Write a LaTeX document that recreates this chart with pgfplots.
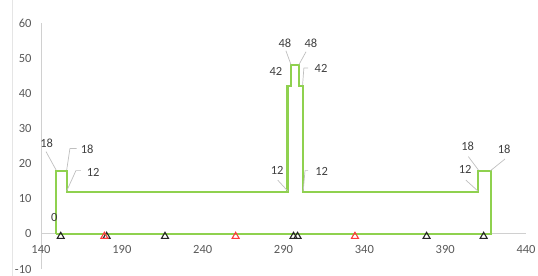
\documentclass[border=0pt]{standalone}
\usepackage{pgfplots}
\pgfplotsset{compat=1.18}
\usepackage{fontspec}
\setmainfont{Carlito}
\definecolor{lgreen}{HTML}{8FD14F}
\definecolor{tickgray}{HTML}{595959}
\definecolor{lblgray}{HTML}{404040}
\definecolor{leadgray}{HTML}{BFBFBF}
\definecolor{axgray}{HTML}{D0D0D0}
\definecolor{tred}{HTML}{FF3B3B}
\definecolor{tblack}{HTML}{262626}
\tikzset{
  leader/.style={draw=leadgray, line width=0.7bp},
  dl/.style={font=\fontsize{12.5bp}{14bp}\selectfont, text=lblgray},
}
\begin{document}
\begin{tikzpicture}
\path[use as bounding box] (-41bp,-7bp) rectangle (497bp,269bp);
\draw[gray!20, line width=0.6bp] (-29bp,-7bp) -- (-29bp,269bp);
\begin{axis}[
  at={(0,0)}, anchor=south west,
  scale only axis, width=485bp, height=246bp,
  xmin=140, xmax=440, ymin=-10, ymax=60,
  xtick={140,190,...,440}, ytick={-10,0,...,60},
  axis x line*=middle, axis y line*=left,
  hide obscured x ticks=false, hide obscured y ticks=false,
  major tick length=0,
  axis line style={draw=axgray, line width=0.8bp},
  tick label style={font=\fontsize{12.5bp}{14bp}\selectfont, text=tickgray},
  /pgf/number format/assume math mode=true,
  xticklabel style={anchor=north, yshift=-8bp},
  yticklabel style={anchor=east, xshift=-6bp},
  clip=false,
]
\addplot[draw=lgreen, line width=2.1bp, line join=miter, mark=none] coordinates {
 (149,0) (149,18) (156,18) (156,12) (292.5,12) (292.5,42) (294.6,42) (294.6,48)
 (299.6,48) (299.6,42) (302.1,42) (302.1,12) (410.4,12) (410.4,18) (418.1,18) (418.1,0) (149,0)
};
\addplot[only marks, mark=triangle, mark size=4bp, draw=tblack, mark options={line width=1.1bp, fill=none}] coordinates {
 (152.2,-0.7) (180.6,-0.7) (216.7,-0.7) (296.2,-0.7) (298.7,-0.7) (378.5,-0.7) (413.8,-0.7)
};
\addplot[only marks, mark=triangle, mark size=4bp, draw=tred, mark options={line width=1.1bp, fill=none}] coordinates {
 (179.2,-0.7) (260.4,-0.7) (334.2,-0.7)
};
% leader lines
\draw[leader] (143.1,23.4) -- (149.3,18.2);
\draw[leader] (155.9,18.2) -- (157.9,24.3) -- (162.1,24.3);
\draw[leader] (155.9,12.2) -- (161.6,18) -- (164.7,18);
\draw[leader] (291.5,52.1) -- (294.6,48.2);
\draw[leader] (299.6,48.2) -- (303.9,51.8);
\draw[leader] (301.8,42.3) -- (302.6,47.2) -- (305.3,47.2);
\draw[leader] (286.4,15.3) -- (292.6,12.2);
\draw[leader] (302.2,12.2) -- (303.3,18) -- (305.3,18);
\draw[leader] (404.3,22) -- (410.5,18.2);
\draw[leader] (418.1,18) -- (427,21.3);
\draw[leader] (402.8,15.3) -- (410.2,12.2);
% data labels
\node[dl] at (143.5,25.7) {18};
\node[dl] at (168.6,24.1) {18};
\node[dl] at (172.3,17.5) {12};
\node[dl] at (148.2,4.7) {0};
\node[dl] at (290.9,54.2) {48};
\node[dl] at (307.0,54.2) {48};
\node[dl] at (285.3,46.1) {42};
\node[dl] at (313.2,47.1) {42};
\node[dl] at (286.1,18.0) {12};
\node[dl] at (313.6,17.7) {12};
\node[dl] at (403.9,24.8) {18};
\node[dl] at (426.5,24.1) {18};
\node[dl] at (402.4,18.2) {12};
\end{axis}
\end{tikzpicture}
\end{document}
